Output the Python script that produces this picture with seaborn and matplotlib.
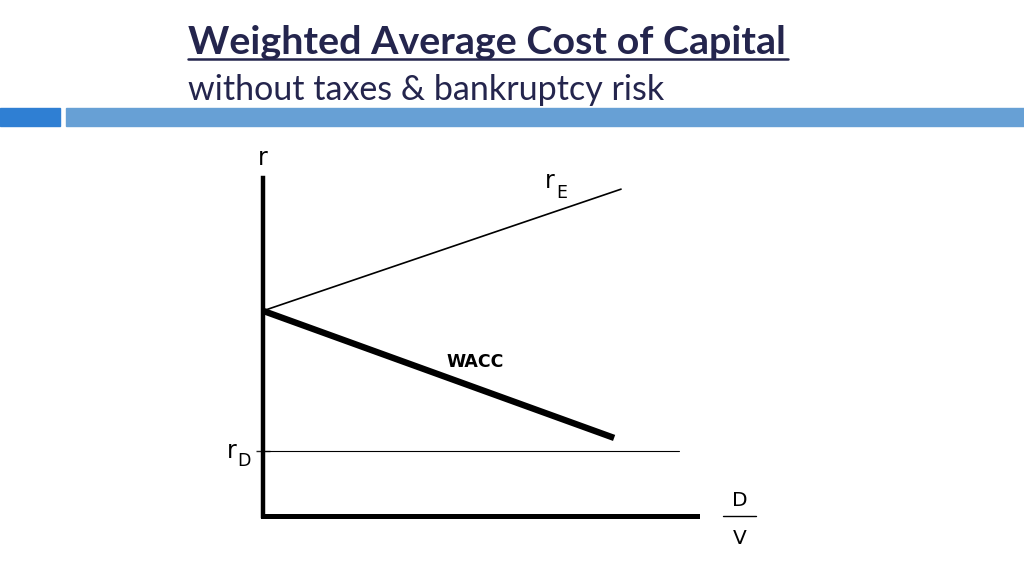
import matplotlib
matplotlib.use("Agg")
import matplotlib.pyplot as plt
from matplotlib.patches import Rectangle
import seaborn as sns

# Debt ratio (D/V) on x, rates on y, in normalised units
re_x = [0.0, 0.825]
r_e = [0.607, 0.967]
wacc_x = [0.0, 0.809]
wacc = [0.607, 0.231]
rd_x = [0.0, 0.959]
r_d = [0.192, 0.192]

title = "Weighted Average Cost of Capital"
subtitle = "without taxes & bankruptcy risk"

sns.set_style("white")
plt.rcParams["font.family"] = ["DejaVu Sans"]

W, H = 1024, 576
fig = plt.figure(figsize=(W / 100, H / 100), dpi=100)

# header bars
fig.patches.append(Rectangle((0, 1 - 126 / H), 60 / W, 18 / H, transform=fig.transFigure,
                             color="#2f7fd3", zorder=0))
fig.patches.append(Rectangle((66 / W, 1 - 126 / H), 1, 18 / H, transform=fig.transFigure,
                             color="#67a0d5", zorder=0))

fig.text(188 / W, 1 - 54 / H, title, fontsize=28.4, fontweight="bold", color="#24254d",
         family="Lato", ha="left", va="baseline")
fig.add_artist(plt.Line2D([188 / W, 788 / W], [1 - 59 / H, 1 - 59 / H], color="#24254d",
                          lw=1.8, transform=fig.transFigure))
fig.text(188 / W, 1 - 100 / H, subtitle, fontsize=24.5, color="#24254d",
         family="Lato", ha="left", va="baseline")

ax = fig.add_axes([263 / W, 1 - 516 / H, (697 - 263) / W, (516 - 178) / H])
sns.lineplot(x=re_x, y=r_e, ax=ax, color="black", lw=1.2)
sns.lineplot(x=wacc_x, y=wacc, ax=ax, color="black", lw=4.6, solid_capstyle="butt")
sns.lineplot(x=rd_x, y=r_d, ax=ax, color="black", lw=0.8)
ax.set_xlim(0, 1)
ax.set_ylim(0, 1)
for s in ["top", "right"]:
    ax.spines[s].set_visible(False)
ax.spines["left"].set_linewidth(3.2)
ax.spines["bottom"].set_linewidth(3.6)
ax.spines["left"].set_color("black")
ax.spines["bottom"].set_color("black")
ax.set_xticks([])
ax.set_yticks([r_d[0]])
ax.set_yticklabels([])
ax.tick_params(axis="y", length=10, width=1, direction="inout", left=True)

lab = dict(color="black", family="DejaVu Sans")
ax.text(0, 1.06, "r", fontsize=17, ha="center", va="center", transform=ax.transAxes, **lab)
ax.text(re_x[1] - 0.165, r_e[1] + 0.025, "r", fontsize=17, ha="center", va="center", **lab)
ax.text(re_x[1] - 0.137, r_e[1] - 0.01, "E", fontsize=12.5, ha="center", va="center", **lab)
ax.text(-0.072, r_d[0] + 0.0, "r", fontsize=17, ha="center", va="center", clip_on=False, **lab)
ax.text(-0.045, r_d[0] - 0.03, "D", fontsize=12.5, ha="center", va="center", clip_on=False, **lab)
ax.text(0.488, 0.455, "WACC", fontsize=12.5, fontweight="bold", ha="center", va="center", **lab)

fig.text(740 / W, 1 - 500 / H, "D", fontsize=14.5, ha="center", va="center", **lab)
fig.add_artist(plt.Line2D([723 / W, 756 / W], [1 - 516 / H, 1 - 516 / H], color="black",
                          lw=1.0, transform=fig.transFigure))
fig.text(740 / W, 1 - 538 / H, "V", fontsize=14.5, ha="center", va="center", **lab)

fig.savefig("out.png", dpi=100)
